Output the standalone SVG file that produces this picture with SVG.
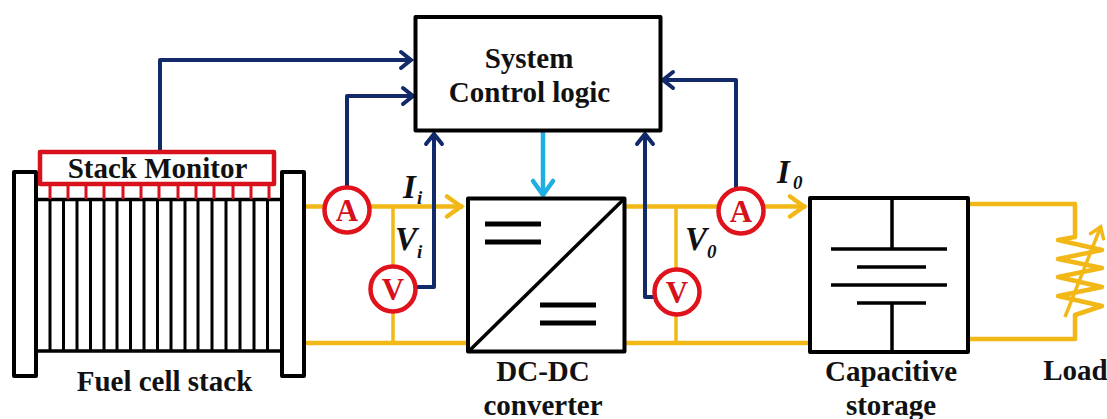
<svg xmlns="http://www.w3.org/2000/svg" width="1107" height="419" viewBox="0 0 1107 419">
<style>
.t{font-family:"Liberation Serif","Times New Roman",serif;font-weight:bold;fill:#111;text-anchor:middle}
.lbl{font-size:29px}
.it{font-family:"Liberation Serif","Times New Roman",serif;font-weight:bold;font-style:italic;fill:#111}
.box{fill:#fff;stroke:#000;stroke-width:4;stroke-linejoin:round}
.k{fill:none;stroke:#000;stroke-width:3.5}
.k3{fill:none;stroke:#000;stroke-width:3}
.k5{fill:none;stroke:#000;stroke-width:5}
.y{fill:none;stroke:#f2b817;stroke-width:4.5;stroke-linejoin:round}
.y3{fill:none;stroke:#f2b817;stroke-width:3.5}
.n{fill:none;stroke:#12296a;stroke-width:4;stroke-linejoin:round}
.c{fill:none;stroke:#1eaee4;stroke-width:4.5}
.m{fill:#fff;stroke:#e0131c;stroke-width:4.5}
.mt{font-family:"Liberation Serif","Times New Roman",serif;font-weight:bold;font-size:31px;fill:#d5121c;text-anchor:middle}
.r{fill:none;stroke:#d8121c;stroke-width:3}
</style>
<defs>
<marker id="an" markerUnits="userSpaceOnUse" markerWidth="20" markerHeight="24" refX="15" refY="10" orient="auto" viewBox="0 0 20 20"><path d="M4 2 L14 10 L4 18" fill="none" stroke="#12296a" stroke-width="4" stroke-linecap="round"/></marker>
<marker id="ac" markerUnits="userSpaceOnUse" markerWidth="24" markerHeight="28" refX="19" refY="13" orient="auto" viewBox="0 0 24 26"><path d="M4 3 L18 13 L4 23" fill="none" stroke="#1eaee4" stroke-width="4.5" stroke-linecap="round"/></marker>
<marker id="ay" markerUnits="userSpaceOnUse" markerWidth="24" markerHeight="28" refX="20" refY="13" orient="auto" viewBox="0 0 24 26"><path d="M4 3 L18 13 L4 23" fill="none" stroke="#f2b817" stroke-width="4.5" stroke-linecap="round"/></marker>
<marker id="ayt" markerUnits="userSpaceOnUse" markerWidth="20" markerHeight="22" refX="15" refY="10" orient="auto" viewBox="0 0 20 20"><path d="M4 3 L14 10 L4 17" fill="none" stroke="#f2b817" stroke-width="3.5" stroke-linecap="round"/></marker>
</defs>
<rect width="1107" height="419" fill="#fff"/>

<g id="connectors">
<path class="y" d="M304 206.5H463" marker-end="url(#ay)"/>
<path class="y" d="M304 343H468"/>
<path class="y3" d="M393 208V343"/>
<path class="y" d="M625 206.5H806" marker-end="url(#ay)"/>
<path class="y" d="M625 343H810"/>
<path class="y3" d="M676 208V343"/>
<path class="y" d="M968 204H1075V237L1058 240L1102 250L1058 259L1102 268L1058 277L1102 287L1058 296L1102 306L1075 315V339H968"/>
<path class="y3" d="M1065 317L1101 226" marker-end="url(#ayt)"/>
<path class="n" d="M160 151V60H412" marker-end="url(#an)"/>
<path class="n" d="M347 187V96H414" marker-end="url(#an)"/>
<path class="n" d="M417 287H434V133" marker-end="url(#an)"/>
<path class="n" d="M654 297H645V133" marker-end="url(#an)"/>
<path class="n" d="M736 188V80H662" marker-end="url(#an)"/>
<path class="c" d="M543 131V196" marker-end="url(#ac)"/>
</g>

<g id="fuel-cell-stack">
<path class="k" d="M36 199.500H281M36 351H281"/>
<path class="k3" d="M50 200V351M63.500 200V351M77 200V351M90.500 200V351M104 200V351M117 200V351M130.500 200V351M144 200V351M157.500 200V351M171 200V351M185 200V351M198 200V351M212 200V351M226 200V351M240 200V351M254 200V351M267.500 200V351"/>
<rect class="box" x="14" y="172" width="22" height="204"/>
<rect class="box" x="282" y="172" width="22" height="204"/>
<text class="t lbl" x="164.500" y="391">Fuel cell stack</text>
</g>

<g id="stack-monitor">
<path class="r" d="M50 184V199M68 184V199M86 184V199M104 184V199M123 184V199M141 184V199M159 184V199M178 184V199M196 184V199M214 184V199M233 184V199M251 184V199M269 184V199"/>
<rect x="40" y="152" width="234" height="32" fill="#fff" stroke="#d8121c" stroke-width="4.500" stroke-linejoin="round"/>
<text class="t lbl" x="157.500" y="178">Stack Monitor</text>
</g>

<g id="control-logic">
<rect class="box" x="415.500" y="17" width="245" height="113.500"/>
<text class="t lbl" x="529" y="68">System</text>
<text class="t lbl" x="529.500" y="102">Control logic</text>
</g>

<g id="dc-dc-converter">
<rect class="box" x="468" y="198.500" width="156.500" height="153"/>
<path class="k" d="M468 352L625 198" stroke-width="4"/>
<path class="k5" d="M485 224H541M485 242H541M540 305H596M540 323H596"/>
<text class="t lbl" x="543" y="381">DC-DC</text>
<text class="t lbl" x="543" y="415">converter</text>
</g>

<g id="capacitive-storage">
<rect class="box" x="810" y="198" width="158" height="154"/>
<path class="k" d="M892 198V249M892 303V352M831 249H947M857 267H926M831 285H947M857 303H926"/>
<text class="t lbl" x="891" y="381">Capacitive</text>
<text class="t lbl" x="891" y="415">storage</text>
</g>

<g id="load">
<text class="t lbl" x="1075.500" y="380">Load</text>
</g>

<g id="ammeter-in"><circle class="m" cx="347" cy="210" r="22.500"/><text class="mt" x="347" y="221">A</text></g>
<g id="voltmeter-in"><circle class="m" cx="393" cy="289" r="22.500"/><text class="mt" x="393" y="300">V</text></g>
<g id="voltmeter-out"><circle class="m" cx="677" cy="292" r="22.500"/><text class="mt" x="677" y="303">V</text></g>
<g id="ammeter-out"><circle class="m" cx="741" cy="211" r="22.500"/><text class="mt" x="741" y="222">A</text></g>

<g id="labels">
<text class="it" x="403" y="198" font-size="33">I</text><text class="it" x="417" y="204" font-size="19">i</text>
<text class="it" x="395" y="250" font-size="33">V</text><text class="it" x="417" y="258" font-size="19">i</text>
<text class="it" x="685" y="250" font-size="33">V</text><text class="it" x="707" y="258" font-size="19">0</text>
<text class="it" x="777" y="183" font-size="33">I</text><text class="it" x="793" y="189" font-size="19">0</text>
</g>
</svg>
